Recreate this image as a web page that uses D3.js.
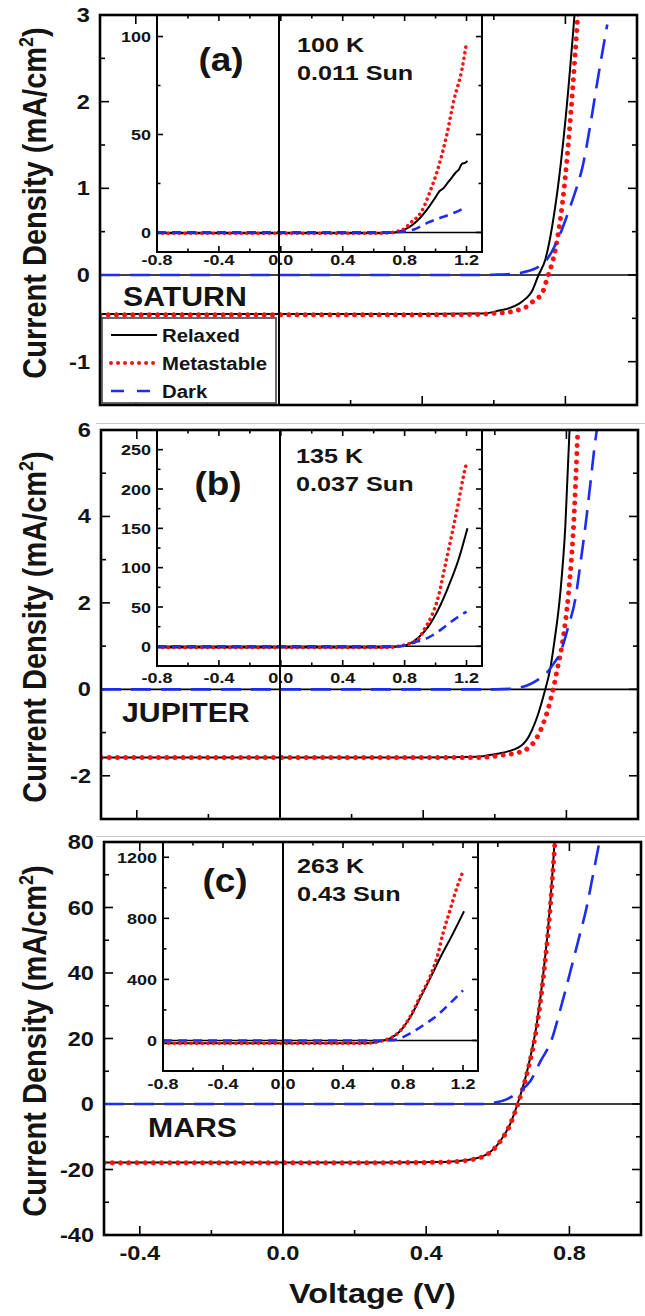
<!DOCTYPE html>
<html>
<head>
<meta charset="utf-8">
<script src="https://cdn.jsdelivr.net/npm/d3@7"></script>
<style>
  body { margin: 0; background: #fff; }
  svg { display: block; }
  text { font-family: "Liberation Sans", Arial, sans-serif; font-weight: bold; fill: #141414; }
</style>
</head>
<body>
<svg id="fig" width="645" height="1316"></svg>
<script>
// ---------------- labels ----------------
const seriesNames = ["Relaxed", "Metastable", "Dark"];
const panelTags   = ["(a)", "(b)", "(c)"];
const siteNames   = ["SATURN", "JUPITER", "MARS"];
const tempLabels  = ["100 K", "135 K", "263 K"];
const sunLabels   = ["0.011 Sun", "0.037 Sun", "0.43 Sun"];
const xTitle = "Voltage (V)";

// ---------------- shared x ticks ----------------
const mainXMajor = [-0.4, 0, 0.4, 0.8];
const mainXLabels = ["-0.4", "0.0", "0.4", "0.8"];
const mainXMinor = [-0.2, 0.2, 0.6];
const insetXMajor = [-0.8, -0.4, 0, 0.4, 0.8, 1.2];
const insetXLabels = ["-0.8", "-0.4", "0.0", "0.4", "0.8", "1.2"];
const insetXMinor = [-0.6, -0.2, 0.2, 0.6, 1.0];

// ---------------- y ticks ----------------
const yMajorA = [-1, 0, 1, 2, 3];              const yMinorA = [-0.5, 0.5, 1.5, 2.5];
const yMajorB = [-2, 0, 2, 4, 6];              const yMinorB = [-1, 1, 3, 5];
const yMajorC = [-40, -20, 0, 20, 40, 60, 80]; const yMinorC = [-30, -10, 10, 30, 50, 70];
const iyMajorA = [0, 50, 100];                 const iyMinorA = [25, 75];
const iyMajorB = [0, 50, 100, 150, 200, 250];  const iyMinorB = [25, 75, 125, 175, 225];
const iyMajorC = [0, 400, 800, 1200];          const iyMinorC = [200, 600, 1000];

// ---------------- (a) SATURN, 100 K ----------------
const vA_rel  = [-0.5, 0.40, 0.55, 0.58, 0.615, 0.645, 0.671, 0.69, 0.705, 0.725, 0.744, 0.763, 0.783, 0.803, 0.827];
const jA_rel  = [-0.45, -0.45, -0.445, -0.44, -0.41, -0.38, -0.33, -0.27, -0.2, 0, 0.18, 0.56, 1.14, 1.91, 3.08];
const vA_meta = [-0.5, 0.40, 0.55, 0.607, 0.64, 0.663, 0.69, 0.708, 0.736, 0.752, 0.766, 0.783, 0.80, 0.816, 0.836];
const jA_meta = [-0.46, -0.46, -0.455, -0.44, -0.43, -0.41, -0.37, -0.31, -0.2, 0, 0.18, 0.56, 1.14, 1.91, 3.08];
const vA_dark = [-0.5, 0.55, 0.60, 0.65, 0.68, 0.727, 0.75, 0.783, 0.811, 0.83, 0.848, 0.872, 0.89, 0.917];
const jA_dark = [0, 0, 0.003, 0.012, 0.03, 0.1, 0.19, 0.45, 0.76, 0.99, 1.25, 1.79, 2.25, 2.89];

const viA_rel  = [-0.8, 0.60, 0.70, 0.75, 0.80, 0.85, 0.89, 0.955, 1.0, 1.025, 1.05, 1.08, 1.10, 1.135, 1.15, 1.17, 1.19, 1.206];
const jiA_rel  = [-0.45, -0.45, -0.3, 0.2, 1.5, 3.8, 6.6, 12.8, 18, 21, 22.5, 25.5, 27.5, 31, 32, 35, 35.5, 36.5];
const viA_meta = [-0.8, 0.60, 0.70, 0.75, 0.80, 0.84, 0.91, 0.96, 1.02, 1.07, 1.12, 1.17, 1.20];
const jiA_meta = [-0.46, -0.46, -0.2, 0.5, 2, 5, 10.7, 20, 33.7, 49, 68, 83, 97];
const viA_dark = [-0.8, 0.70, 0.75, 0.80, 0.86, 0.95, 1.04, 1.12, 1.20];
const jiA_dark = [0, 0, 0.1, 0.5, 1.5, 5, 7.7, 10, 13];

// ---------------- (b) JUPITER, 135 K ----------------
const vB_rel  = [-0.5, 0.40, 0.55, 0.60, 0.64, 0.665, 0.68, 0.693, 0.705, 0.72, 0.741, 0.755, 0.766, 0.783, 0.797, 0.809];
const jB_rel  = [-1.58, -1.575, -1.56, -1.50, -1.43, -1.35, -1.26, -1.12, -0.92, -0.6, 0, 0.48, 1.08, 2.23, 3.77, 6.05];
const vB_meta = [-0.5, 0.40, 0.56, 0.615, 0.671, 0.69, 0.705, 0.72, 0.735, 0.763, 0.775, 0.789, 0.806, 0.820, 0.832];
const jB_meta = [-1.58, -1.58, -1.575, -1.53, -1.45, -1.38, -1.27, -1.08, -0.8, 0, 0.48, 1.08, 2.23, 3.77, 6.05];
const vB_dark = [-0.5, 0.60, 0.64, 0.663, 0.69, 0.72, 0.746, 0.765, 0.783, 0.806, 0.825, 0.839, 0.853, 0.867, 0.881, 0.886];
const jB_dark = [0, 0, 0.01, 0.03, 0.09, 0.22, 0.39, 0.6, 0.85, 1.47, 2.09, 2.9, 3.77, 4.76, 5.77, 6.05];

const viB_rel  = [-0.8, 0.60, 0.70, 0.778, 0.823, 0.888, 0.953, 1.018, 1.083, 1.148, 1.206];
const jiB_rel  = [-1.58, -1.58, -1.2, 0, 2.5, 11, 25, 47, 76, 110, 150];
const viB_meta = [-0.8, 0.60, 0.70, 0.76, 0.823, 0.888, 0.927, 0.973, 1.018, 1.057, 1.103, 1.148, 1.18, 1.20];
const jiB_meta = [-1.58, -1.58, -1.3, 0, 3, 9, 21.6, 38, 63, 98, 140, 183, 216, 233];
const viB_dark = [-0.8, 0.70, 0.778, 0.862, 0.953, 1.037, 1.12, 1.20];
const jiB_dark = [0, 0, 0.3, 5, 11, 21.6, 34, 44];

// ---------------- (c) MARS, 263 K ----------------
const vC_rel  = [-0.5, 0.30, 0.45, 0.515, 0.57, 0.607, 0.635, 0.655, 0.682, 0.71, 0.727, 0.744, 0.759];
const jC_rel  = [-17.9, -17.85, -17.7, -17.1, -15.3, -11.3, -6, 0, 10.1, 25.3, 39.7, 58, 80.5];
const vC_meta = [-0.5, 0.30, 0.45, 0.515, 0.57, 0.607, 0.635, 0.656, 0.683, 0.711, 0.728, 0.745, 0.76];
const jC_meta = [-17.95, -17.9, -17.75, -17.2, -15.4, -11.4, -6.1, 0, 10, 25, 39.5, 58, 80.5];
const vC_dark = [-0.5, 0.56, 0.58, 0.626, 0.663, 0.691, 0.719, 0.75, 0.775, 0.803, 0.825, 0.848, 0.866, 0.882];
const jC_dark = [0, 0, 0.2, 1.5, 4, 7, 13, 19.5, 29, 40.6, 50, 60, 70, 79];

const viC_rel  = [-0.8, 0.55, 0.62, 0.667, 0.713, 0.78, 0.847, 0.913, 0.98, 1.047, 1.133, 1.207];
const jiC_rel  = [-17.9, -17.9, -12, 0, 13, 60, 150, 275, 405, 540, 700, 846];
const viC_meta = [-0.8, 0.55, 0.62, 0.667, 0.713, 0.78, 0.847, 0.913, 0.98, 1.027, 1.067, 1.113, 1.16, 1.20];
const jiC_meta = [-17.9, -17.9, -12, 0, 14, 62, 155, 285, 418, 544, 702, 852, 1003, 1108];
const viC_dark = [-0.8, 0.65, 0.713, 0.76, 0.847, 0.933, 1.027, 1.113, 1.20];
const jiC_dark = [0, 0, 1, 7, 46, 98, 164, 243, 328];

// ---------------- styles ----------------
const RED = "#ff1010", BLUE = "#1c2cf0", BLACK = "#000";
const mainStyle = [
  { stroke: BLACK, width: 2, dash: null, cap: "butt" },
  { stroke: RED, width: 5, dash: "0.01 8.2", cap: "round" },
  { stroke: BLUE, width: 2.6, dash: "20 10", cap: "butt" }
];
const insetStyle = [
  { stroke: BLACK, width: 2, dash: null, cap: "butt" },
  { stroke: RED, width: 3.6, dash: "0.01 5.6", cap: "round" },
  { stroke: BLUE, width: 2.6, dash: "9 6", cap: "butt" }
];

const pair = (v, j) => v.map((x, i) => [x, j[i]]);

const panels = [
  {
    box: { x0: 100, x1: 637, y0: 15, y1: 405 }, yDomain: [-1.5, 3],
    yMajor: yMajorA, yMinor: yMinorA,
    main: [pair(vA_rel, jA_rel), pair(vA_meta, jA_meta), pair(vA_dark, jA_dark)],
    inset: { x0: 157, x1: 482, y0: 15, y1: 252, yDomain: [-10, 111], yMajor: iyMajorA, yMinor: iyMinorA, lblY: 265,
             series: [pair(viA_rel, jiA_rel), pair(viA_meta, jiA_meta), pair(viA_dark, jiA_dark)] },
    tag: [221, 71], cond: [297, 52, 80], site: [123, 306], titleY: 203, legend: true, xLabels: false
  },
  {
    box: { x0: 101, x1: 638, y0: 430, y1: 819 }, yDomain: [-3, 6],
    yMajor: yMajorB, yMinor: yMinorB,
    main: [pair(vB_rel, jB_rel), pair(vB_meta, jB_meta), pair(vB_dark, jB_dark)],
    inset: { x0: 157, x1: 482, y0: 430, y1: 666, yDomain: [-25, 275], yMajor: iyMajorB, yMinor: iyMinorB, lblY: 683,
             series: [pair(viB_rel, jiB_rel), pair(viB_meta, jiB_meta), pair(viB_dark, jiB_dark)] },
    tag: [218, 495], cond: [296, 463, 491], site: [122, 722], titleY: 627, legend: false, xLabels: false
  },
  {
    box: { x0: 104, x1: 641, y0: 842, y1: 1235 }, yDomain: [-40, 80],
    yMajor: yMajorC, yMinor: yMinorC,
    main: [pair(vC_rel, jC_rel), pair(vC_meta, jC_meta), pair(vC_dark, jC_dark)],
    inset: { x0: 163, x1: 478, y0: 842, y1: 1071, yDomain: [-200, 1300], yMajor: iyMajorC, yMinor: iyMinorC, lblY: 1089,
             series: [pair(viC_rel, jiC_rel), pair(viC_meta, jiC_meta), pair(viC_dark, jiC_dark)] },
    tag: [225, 892], cond: [297, 873, 901], site: [148, 1137], titleY: 1041, legend: false, xLabels: true
  }
];

const svg = d3.select("#fig");

// horizontal text, slightly widened like the printed figure
function label(g, s, x, y, size, anchor = "start", sx = 1.15) {
  return g.append("text")
    .attr("transform", `translate(${x},${y}) scale(${sx},1)`)
    .attr("font-size", size)
    .attr("text-anchor", anchor)
    .text(s);
}

// inward tick marks on all four sides of a frame
function ticks(g, x, y, box, xs, ys, len) {
  xs.forEach(v => {
    g.append("line").attr("x1", x(v)).attr("x2", x(v)).attr("y1", box.y1).attr("y2", box.y1 - len)
      .attr("stroke", "#000").attr("stroke-width", 1.6);
    g.append("line").attr("x1", x(v)).attr("x2", x(v)).attr("y1", box.y0).attr("y2", box.y0 + len)
      .attr("stroke", "#000").attr("stroke-width", 1.6);
  });
  ys.forEach(v => {
    g.append("line").attr("y1", y(v)).attr("y2", y(v)).attr("x1", box.x0).attr("x2", box.x0 + len)
      .attr("stroke", "#000").attr("stroke-width", 1.6);
    g.append("line").attr("y1", y(v)).attr("y2", y(v)).attr("x1", box.x1).attr("x2", box.x1 - len)
      .attr("stroke", "#000").attr("stroke-width", 1.6);
  });
}

function curves(g, x, y, series, styles) {
  const line = d3.line().x(d => x(d[0])).y(d => y(d[1])).curve(d3.curveMonotoneX);
  series.forEach((s, i) => {
    const st = styles[i];
    g.append("path").attr("d", line(s)).attr("fill", "none")
      .attr("stroke", st.stroke).attr("stroke-width", st.width)
      .attr("stroke-linecap", st.cap).attr("stroke-linejoin", "round")
      .attr("stroke-dasharray", st.dash);
  });
}

// faint borders between the stacked sub-figures
[423.5, 836.5].forEach(yy => {
  svg.append("line").attr("x1", 96).attr("x2", 645).attr("y1", yy).attr("y2", yy)
    .attr("stroke", "#c8c8c8").attr("stroke-width", 1.2);
});

panels.forEach((p, k) => {
  const b = p.box;
  const g = svg.append("g");
  const x = d3.scaleLinear().domain([-0.5, 1.0]).range([b.x0, b.x1]);
  const y = d3.scaleLinear().domain(p.yDomain).range([b.y1, b.y0]);

  const clipId = "clip" + k;
  svg.append("clipPath").attr("id", clipId).append("rect")
    .attr("x", b.x0).attr("y", b.y0).attr("width", b.x1 - b.x0).attr("height", b.y1 - b.y0);

  // zero lines
  g.append("line").attr("x1", b.x0).attr("x2", b.x1).attr("y1", y(0)).attr("y2", y(0))
    .attr("stroke", "#000").attr("stroke-width", 1.6);

  // ticks
  ticks(g, x, y, b, mainXMajor, p.yMajor, 9);
  ticks(g, x, y, b, mainXMinor, p.yMinor, 5);

  // main curves
  curves(g.append("g").attr("clip-path", `url(#${clipId})`), x, y, p.main, mainStyle);

  // tick labels and axis titles
  p.yMajor.forEach(v => label(g, String(v), b.x0 - 10, y(v) + 7, 20, "end", 1.18));
  if (p.xLabels) {
    mainXMajor.forEach((v, i) => label(g, mainXLabels[i], x(v), b.y1 + 25, 20, "middle", 1.18));
    label(g, xTitle, (b.x0 + b.x1) / 2, 1303, 27, "middle", 1.2);
  }
  const t = g.append("text")
    .attr("transform", `translate(46,${p.titleY}) rotate(-90) scale(1,1.12)`)
    .attr("font-size", 29).attr("text-anchor", "middle");
  t.append("tspan").text("Current Density (mA/cm");
  t.append("tspan").text("2").attr("font-size", 18).attr("dy", -12);
  t.append("tspan").text(")").attr("dy", 12);

  // ---- inset ----
  const ib = p.inset;
  const ix = d3.scaleLinear().domain([-0.8, 1.3]).range([ib.x0, ib.x1]);
  const iy = d3.scaleLinear().domain(ib.yDomain).range([ib.y1, ib.y0]);
  const ig = svg.append("g");
  ig.append("rect").attr("x", ib.x0).attr("y", ib.y0).attr("width", ib.x1 - ib.x0).attr("height", ib.y1 - ib.y0)
    .attr("fill", "#fff");
  const iclip = "iclip" + k;
  svg.append("clipPath").attr("id", iclip).append("rect")
    .attr("x", ib.x0).attr("y", ib.y0).attr("width", ib.x1 - ib.x0).attr("height", ib.y1 - ib.y0);
  ig.append("line").attr("x1", ib.x0).attr("x2", ib.x1).attr("y1", iy(0)).attr("y2", iy(0))
    .attr("stroke", "#000").attr("stroke-width", 1.5);
  ticks(ig, ix, iy, ib, insetXMajor, ib.yMajor, 6);
  ticks(ig, ix, iy, ib, insetXMinor, ib.yMinor, 3.5);
  curves(ig.append("g").attr("clip-path", `url(#${iclip})`), ix, iy, ib.series, insetStyle);
  ig.append("rect").attr("x", ib.x0).attr("y", ib.y0).attr("width", ib.x1 - ib.x0).attr("height", ib.y1 - ib.y0)
    .attr("fill", "none").attr("stroke", "#000").attr("stroke-width", 2);
  ib.yMajor.forEach(v => label(ig, String(v), ib.x0 - 6, iy(v) + 5.5, 15, "end", 1.2));
  insetXMajor.forEach((v, i) => label(ig, insetXLabels[i], ix(v), ib.lblY, 15, "middle", 1.2));

  // V = 0 line runs through the whole panel, over the inset
  svg.append("line").attr("x1", x(0)).attr("x2", x(0)).attr("y1", b.y0).attr("y2", b.y1)
    .attr("stroke", "#000").attr("stroke-width", 2);

  // frame
  svg.append("rect").attr("x", b.x0).attr("y", b.y0).attr("width", b.x1 - b.x0).attr("height", b.y1 - b.y0)
    .attr("fill", "none").attr("stroke", "#000").attr("stroke-width", 2.6);

  // annotations
  const ag = svg.append("g");
  label(ag, panelTags[k], p.tag[0], p.tag[1], 33, "middle", 1.12);
  label(ag, tempLabels[k], p.cond[0], p.cond[1], 21, "start", 1.2);
  label(ag, sunLabels[k], p.cond[0], p.cond[2], 21, "start", 1.2);
  label(ag, siteNames[k], p.site[0], p.site[1], 27, "start", 1.12);

  // legend
  if (p.legend) {
    const lg = svg.append("g");
    lg.append("rect").attr("x", 102).attr("y", 318).attr("width", 174).attr("height", 85)
      .attr("fill", "#fff").attr("stroke", "#444").attr("stroke-width", 1.6);
    const legendStyle = [
      { stroke: BLACK, width: 2, dash: null, cap: "butt" },
      { stroke: RED, width: 4, dash: "0.01 7", cap: "round" },
      { stroke: BLUE, width: 2.6, dash: "13 13", cap: "butt" }
    ];
    seriesNames.forEach((name, i) => {
      const yy = 335 + i * 28;
      const st = legendStyle[i];
      lg.append("line").attr("x1", 111).attr("x2", 157).attr("y1", yy).attr("y2", yy)
        .attr("stroke", st.stroke).attr("stroke-width", st.width)
        .attr("stroke-linecap", st.cap).attr("stroke-dasharray", st.dash);
      label(lg, name, 162, yy + 6.5, 18, "start", 1.13);
    });
  }
});
</script>
</body>
</html>
